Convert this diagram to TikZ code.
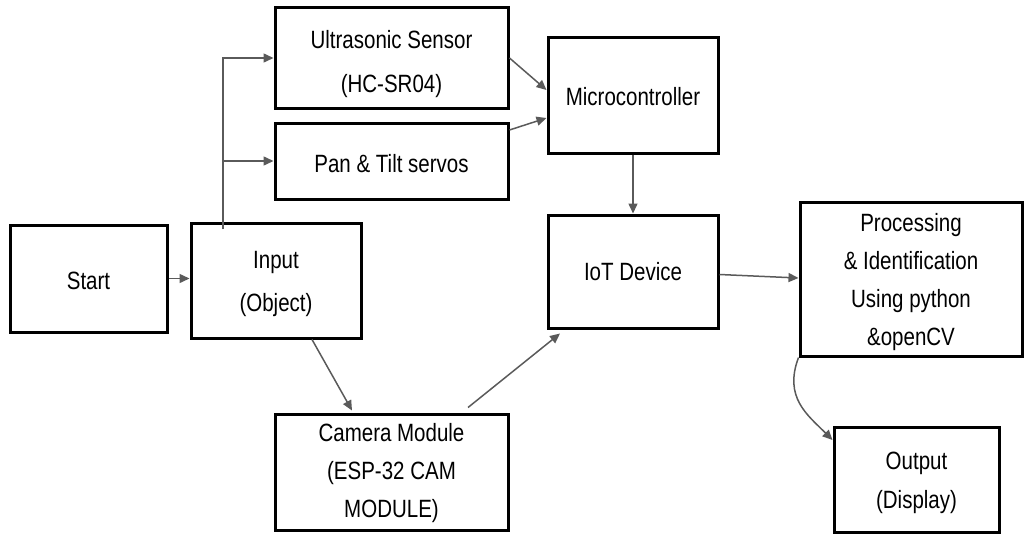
\documentclass[tikz,border=0pt]{standalone}
\usepackage{fontspec}
\setmainfont{Liberation Sans}[FakeStretch=0.82]
\usetikzlibrary{arrows.meta}
\definecolor{linkgray}{RGB}{90,90,90}
\tikzset{
  blk/.style={draw=black, line width=3pt, rectangle, inner sep=0pt},
  txt/.style={align=center, font=\fontsize{25}{#1}\selectfont},
  txt/.default=38,
  flow/.style={draw=linkgray, line width=1.5pt, -{Triangle[length=10pt,width=9pt]}}
}
\begin{document}
\begin{tikzpicture}[x=1pt, y=-1pt]
\useasboundingbox (0,0) rectangle (1025,535);

% blocks (box outline; caption set as a centred label)
\node[blk, minimum width=157pt, minimum height=107pt,
      label={[txt, yshift=-2pt]center:Start}] (start) at (88.5,278.5) {};
\node[blk, minimum width=170pt, minimum height=115pt,
      label={[txt=43, yshift=-3pt]center:Input\\(Object)}] (input) at (276,280.5) {};
\node[blk, minimum width=233pt, minimum height=100pt,
      label={[txt=44, yshift=-6pt]center:Ultrasonic Sensor\\(HC-SR04)}] (ultra) at (391.5,58) {};
\node[blk, minimum width=233pt, minimum height=76pt,
      label={[txt, yshift=-3pt]center:Pan \& Tilt servos}] (pan) at (391.5,161) {};
\node[blk, minimum width=170pt, minimum height=115pt,
      label={[txt, yshift=-1pt]center:Microcontroller}] (micro) at (633,95.5) {};
\node[blk, minimum width=170pt, minimum height=113pt,
      label={[txt]center:IoT Device}] (iot) at (633,271.5) {};
\node[blk, minimum width=222pt, minimum height=154pt,
      label={[txt, yshift=-3pt]center:Processing\\\& Identification\\Using python\\\&openCV}] (proc) at (911,279) {};
\node[blk, minimum width=233pt, minimum height=116pt,
      label={[txt, yshift=-1pt]center:Camera Module\\(ESP-32 CAM\\MODULE)}] (cam) at (391.5,472) {};
\node[blk, minimum width=165pt, minimum height=105pt,
      label={[txt=39, yshift=-3pt]center:Output\\(Display)}] (out) at (916.5,479.5) {};

% branch point inside the input block
\coordinate (br) at (223,229);

% connectors
\draw[flow] (start.east) -- (start.east -| input.west);
\draw[flow] (br) |- (ultra.west);
\draw[flow] (br |- pan.west) -- (pan.west);
\draw[draw=linkgray, line width=1.5pt] (br) -- (br |- pan.west);
\draw[flow] (ultra.east) -- ([yshift=5.5pt]micro.west);
\draw[flow] ([yshift=31pt]pan.east) -- ([yshift=-22.5pt]micro.west);
\draw[flow] (micro.south) -- (iot.north);
\draw[flow] ([yshift=-3pt]iot.east) -- ([yshift=1pt]proc.west);
\draw[flow] ([xshift=36pt]input.south) -- ([xshift=-39.5pt,yshift=2pt]cam.north);
\draw[flow] ([xshift=76.5pt,yshift=5pt]cam.north) -- ([xshift=-73pt,yshift=-4pt]iot.south);
\draw[flow] (proc.south west) .. controls +(-15,40) and +(-25,-25) .. ([yshift=39.5pt]out.west);
\end{tikzpicture}
\end{document}
